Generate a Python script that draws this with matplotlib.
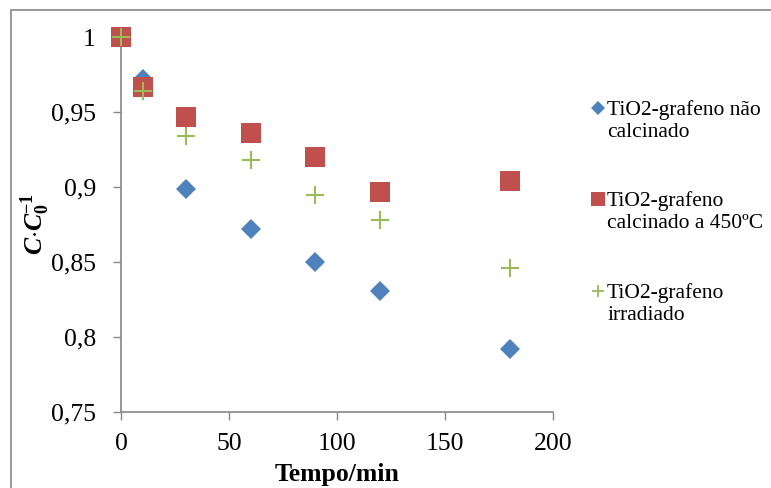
import matplotlib
matplotlib.use("Agg")
import matplotlib.pyplot as plt
from matplotlib.lines import Line2D
from matplotlib.patches import Rectangle

plt.rcParams['font.family'] = ['Liberation Serif', 'DejaVu Serif']
plt.rcParams['mathtext.fontset'] = 'custom'
plt.rcParams['mathtext.rm'] = 'Liberation Serif'
plt.rcParams['mathtext.it'] = 'Liberation Serif:italic'
plt.rcParams['mathtext.bf'] = 'Liberation Serif:bold'
plt.rcParams['mathtext.bfit'] = 'Liberation Serif:bold:italic'

# Data
tempo = [0, 10, 30, 60, 90, 120, 180]
nao_calcinado = [1.0, 0.972, 0.899, 0.872, 0.850, 0.831, 0.792]
calcinado_450 = [1.0, 0.967, 0.947, 0.936, 0.920, 0.897, 0.904]
irradiado = [1.0, 0.964, 0.934, 0.918, 0.895, 0.878, 0.846]

series_labels = ["TiO2-grafeno não\ncalcinado",
                 "TiO2-grafeno\ncalcinado a 450ºC",
                 "TiO2-grafeno\nirradiado"]
x_ticks = [0, 50, 100, 150, 200]
x_ticklabels = ["0", "50", "100", "150", "200"]
y_ticks = [0.75, 0.8, 0.85, 0.9, 0.95, 1.0]
y_ticklabels = ["0,75", "0,8", "0,85", "0,9", "0,95", "1"]

blue = '#4F81BD'
red = '#C0504D'
green = '#9BBB59'
gray = '#868686'

fig = plt.figure(figsize=(7.71, 4.88), dpi=100)
ax = fig.add_axes([121/771, 1-412/488, (553-121)/771, (412-37)/488])

ax.plot(tempo, nao_calcinado, linestyle='none', marker='D', markersize=10.5,
        color=blue, markeredgewidth=0, clip_on=False, zorder=3)
ax.plot(tempo, calcinado_450, linestyle='none', marker='s', markersize=14.5,
        color=red, markeredgewidth=0, clip_on=False, zorder=4)
ax.plot(tempo, irradiado, linestyle='none', marker='+', markersize=13.5,
        color=green, markeredgewidth=1.5, clip_on=False, zorder=5)

ax.set_xlim(0, 200)
ax.set_ylim(0.75, 1.0)
ax.set_xticks(x_ticks)
ax.set_xticklabels(x_ticklabels)
ax.set_yticks(y_ticks)
ax.set_yticklabels(y_ticklabels)
ax.tick_params(axis='both', direction='out', length=6, width=1, color=gray,
               labelsize=18.5)
ax.tick_params(axis='y', pad=12)
ax.tick_params(axis='x', pad=9)
for s in ['top', 'right']:
    ax.spines[s].set_visible(False)
for s in ['left', 'bottom']:
    ax.spines[s].set_color(gray)
    ax.spines[s].set_linewidth(1.2)

fig.text(337/771, 1-474/488, "Tempo/min", ha='center', va='center',
         fontsize=18.5, fontweight='bold')
fig.text(35/771, 1-224/488,
         r'$\mathbfit{C}\mathbf{\cdot}\mathbfit{C}_{\mathbf{0}}^{\mathbf{-1}}$',
         ha='center', va='center', rotation=90, fontsize=18.5)

# Manual legend
leg_markers = [dict(marker='D', markersize=7.5, color=blue, markeredgewidth=0),
               dict(marker='s', markersize=9.5, color=red, markeredgewidth=0),
               dict(marker='+', markersize=9, color=green, markeredgewidth=1.3)]
leg_y = [108, 199, 291]
for lab, mk, yy in zip(series_labels, leg_markers, leg_y):
    fig.add_artist(Line2D([598/771], [1-yy/488], transform=fig.transFigure,
                          linestyle='none', **mk))
    fig.text(607/771, 1-(yy-8)/488, lab, ha='left', va='top', fontsize=15.5,
             linespacing=1.22)

# outer frame
fig.add_artist(Rectangle((11/771, -0.1), 1.2, 1-10/488+0.1,
                         transform=fig.transFigure, fill=False,
                         edgecolor=gray, linewidth=1.2))

fig.savefig('out.png', dpi=100)
